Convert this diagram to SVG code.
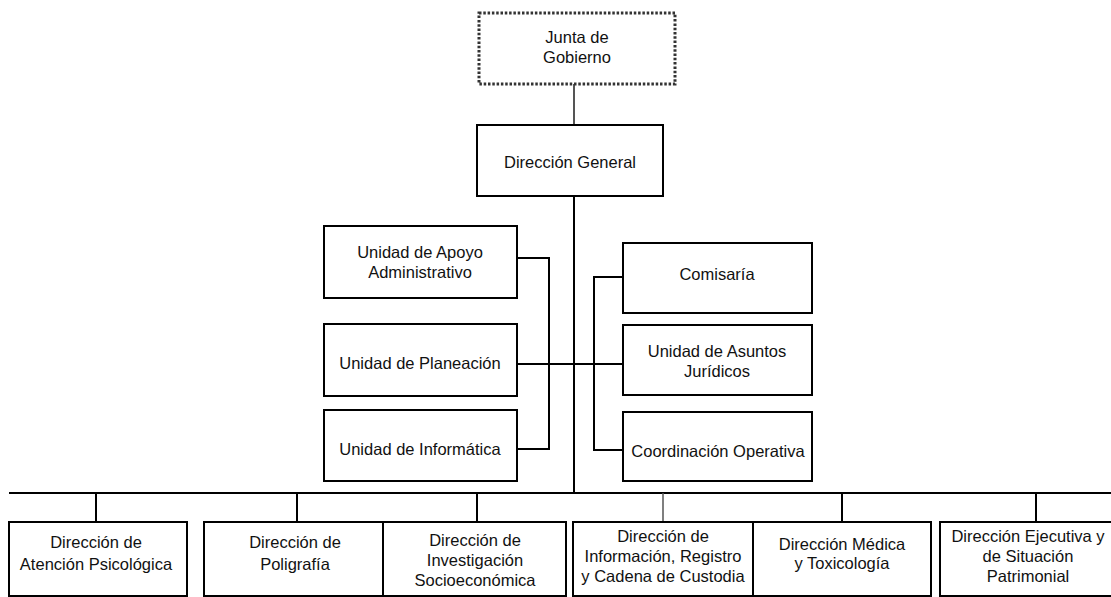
<svg xmlns="http://www.w3.org/2000/svg" width="1111" height="597" viewBox="0 0 1111 597">
<style>
.box{fill:#fff;stroke:#000;stroke-width:2}
.dot{fill:#fff;stroke:#333;stroke-width:3;stroke-dasharray:2.5 1.8}
.ln{fill:none;stroke:#000;stroke-width:2}
.gl{fill:none;stroke:#555;stroke-width:2}
text{font-family:"Liberation Sans",Arial,sans-serif;font-size:16.5px;fill:#111;text-anchor:middle}
</style>
<rect width="1111" height="597" fill="#fff"/>
<g id="connectors">
<line class="gl" x1="574" y1="84" x2="574" y2="125"/>
<line class="ln" x1="574" y1="196" x2="574" y2="493"/>
<polyline class="ln" points="517,258 549,258 549,449 517,449"/>
<line class="ln" x1="517" y1="364" x2="623" y2="364"/>
<polyline class="ln" points="623,277 594,277 594,450 623,450"/>
<line class="ln" x1="9" y1="493" x2="1111" y2="493"/>
<line class="ln" x1="96" y1="493" x2="96" y2="522"/>
<line class="ln" x1="297" y1="493" x2="297" y2="522"/>
<line class="ln" x1="477" y1="493" x2="477" y2="522"/>
<line class="gl" x1="663" y1="493" x2="663" y2="522" style="stroke-width:1.5"/>
<line class="ln" x1="842" y1="493" x2="842" y2="522"/>
<line class="ln" x1="1036" y1="493" x2="1036" y2="522"/>
</g>
<g id="junta">
<rect class="dot" x="479" y="13" width="196" height="71"/>
<text x="577" y="43">Junta de</text>
<text x="577" y="63">Gobierno</text>
</g>
<g id="direccion-general">
<rect class="box" x="477" y="125" width="186" height="71"/>
<text x="570" y="168">Dirección General</text>
</g>
<g id="apoyo">
<rect class="box" x="324" y="226" width="193" height="72"/>
<text x="420" y="258">Unidad de Apoyo</text>
<text x="420" y="278">Administrativo</text>
</g>
<g id="planeacion">
<rect class="box" x="324" y="324" width="193" height="72"/>
<text x="420" y="369">Unidad de Planeación</text>
</g>
<g id="informatica">
<rect class="box" x="324" y="410" width="193" height="71"/>
<text x="420" y="455">Unidad de Informática</text>
</g>
<g id="comisaria">
<rect class="box" x="623" y="243" width="189" height="70"/>
<text x="717" y="280">Comisaría</text>
</g>
<g id="juridicos">
<rect class="box" x="623" y="325" width="189" height="70"/>
<text x="717" y="357">Unidad de Asuntos</text>
<text x="717" y="377">Jurídicos</text>
</g>
<g id="coordinacion">
<rect class="box" x="623" y="412" width="189" height="69"/>
<text x="718" y="457">Coordinación Operativa</text>
</g>
<g id="atencion">
<rect class="box" x="9" y="522" width="178" height="74"/>
<text x="96" y="548">Dirección de</text>
<text x="96" y="570">Atención Psicológica</text>
</g>
<g id="poligrafia">
<rect class="box" x="204" y="522" width="179" height="74"/>
<text x="295" y="548">Dirección de</text>
<text x="295" y="570">Poligrafía</text>
</g>
<g id="socioeconomica">
<rect class="box" x="383" y="522" width="183" height="74"/>
<text x="475" y="546">Dirección de</text>
<text x="475" y="566">Investigación</text>
<text x="475" y="586">Socioeconómica</text>
</g>
<g id="informacion">
<rect class="box" x="573" y="522" width="180" height="74"/>
<text x="663" y="542">Dirección de</text>
<text x="663" y="562">Información, Registro</text>
<text x="663" y="582">y Cadena de Custodia</text>
</g>
<g id="medica">
<rect class="box" x="753" y="522" width="178" height="74"/>
<text x="842" y="550">Dirección Médica</text>
<text x="842" y="569">y Toxicología</text>
</g>
<g id="ejecutiva">
<rect class="box" x="940" y="522" width="175" height="74"/>
<text x="1028" y="542">Dirección Ejecutiva y</text>
<text x="1028" y="562">de Situación</text>
<text x="1028" y="582">Patrimonial</text>
</g>
</svg>
